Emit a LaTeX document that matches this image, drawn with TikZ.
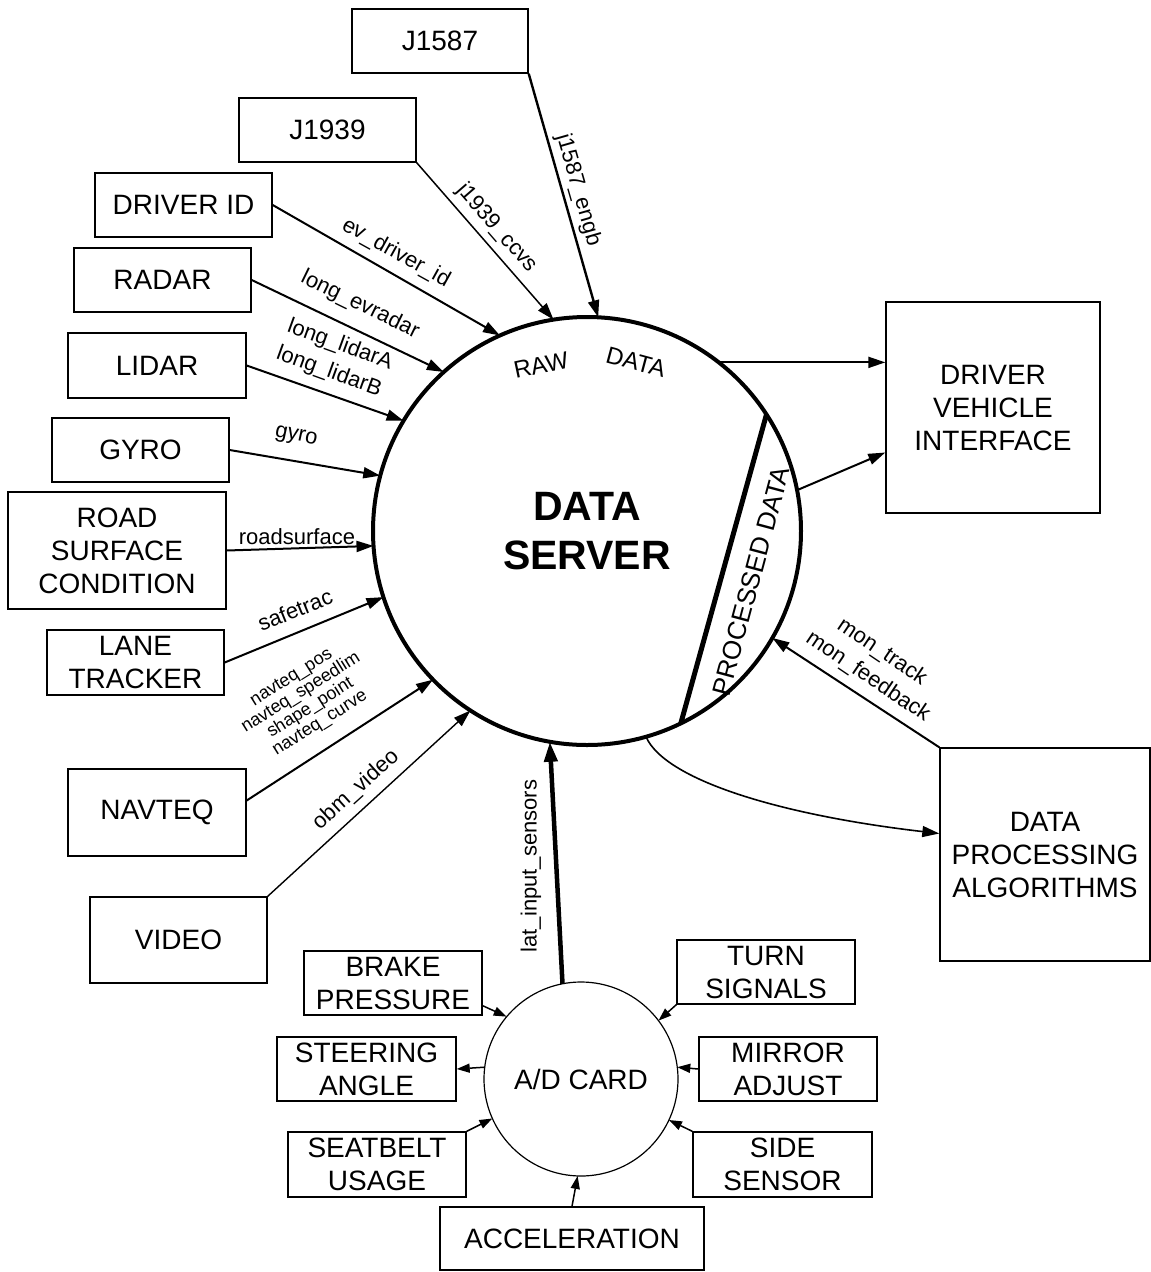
\documentclass[tikz,border=0pt]{standalone}
\usepackage{fontspec}
\setmainfont{Liberation Sans}
\usetikzlibrary{arrows.meta,calc}
\begin{document}
\begin{tikzpicture}[x=1pt,y=-1pt,
  box/.style={draw, line width=1.4pt, inner sep=0pt, align=center, font=\fontsize{28}{33}\selectfont},
  lbl/.style={inner sep=0pt, align=center, font=\fontsize{22}{25}\selectfont},
  slbl/.style={inner sep=0pt, align=center, font=\fontsize{18}{18}\selectfont},
  arr/.style={line width=2pt, -{Triangle[length=17pt,width=11pt]}},
  sarr/.style={line width=1.5pt, -{Triangle[length=13pt,width=9pt]}},
]
\useasboundingbox (0,0) rectangle (1151,1272);
% data server
\node[circle, draw, line width=4pt, inner sep=0pt, outer sep=0pt, minimum size=428, align=center,
      font=\fontsize{41}{49}\selectfont\bfseries] (ds) at (587,531) {DATA\\SERVER};
\draw[line width=5pt] (ds.33) -- (ds.-64);
\node[inner sep=0pt, font=\fontsize{24}{25}\selectfont, rotate=12] (raw) at (541,365) {RAW};
\node[inner sep=0pt, font=\fontsize{24}{25}\selectfont, rotate=-15] (rdata) at (636,362) {DATA};
\node[inner sep=0pt, font=\fontsize{26}{28}\selectfont, rotate=75] (pdata) at (751,581) {PROCESSED DATA};
% source boxes
\node[box, minimum width=176, minimum height=64] (j1587) at (440,41) {J1587};
\node[box, minimum width=177, minimum height=64] (j1939) at (327.5,130) {J1939};
\node[box, minimum width=177, minimum height=64] (drv) at (183.5,205) {DRIVER ID};
\node[box, minimum width=177, minimum height=64] (radar) at (162.5,280) {RADAR};
\node[box, minimum width=178, minimum height=65] (lidar) at (157,365.5) {LIDAR};
\node[box, minimum width=177, minimum height=64] (gyro) at (140.5,450) {GYRO};
\node[box, minimum width=218, minimum height=117] (road) at (117,550.5) {ROAD\\SURFACE\\CONDITION};
\node[box, minimum width=177, minimum height=65] (lane) at (135.5,662.5) {LANE\\TRACKER};
\node[box, minimum width=178, minimum height=87] (navteq) at (157,812.5) {NAVTEQ};
\node[box, minimum width=177, minimum height=86] (video) at (178.5,940) {VIDEO};
\node[box, minimum width=214, minimum height=211] (dvi) at (993,407.5) {DRIVER\\VEHICLE\\INTERFACE};
\node[box, minimum width=210, minimum height=213] (dpa) at (1045,854.5) {DATA\\PROCESSING\\ALGORITHMS};
% A/D card
\node[circle, draw, line width=1.2pt, inner sep=0pt, outer sep=0pt, minimum size=194,
      font=\fontsize{28}{33}\selectfont] (ad) at (581,1079) {A/D CARD};
\node[box, minimum width=178, minimum height=64] (brake) at (393,983) {BRAKE\\PRESSURE};
\node[box, minimum width=179, minimum height=64] (steer) at (366.5,1069) {STEERING\\ANGLE};
\node[box, minimum width=178, minimum height=65] (seat) at (377,1164.5) {SEATBELT\\USAGE};
\node[box, minimum width=178, minimum height=64] (turn) at (766,972) {TURN\\SIGNALS};
\node[box, minimum width=178, minimum height=64] (mirror) at (788,1069) {MIRROR\\ADJUST};
\node[box, minimum width=179, minimum height=65] (side) at (782.5,1164.5) {SIDE\\SENSOR};
\node[box, minimum width=264, minimum height=63] (accel) at (572,1238.5) {ACCELERATION};
% connectors to data server
\draw[arr, line width=2.4pt] (j1587.south east) -- (ds.87);
\draw[arr, line width=1.5pt] (j1939.south east) -- (ds.99);
\draw[arr] (drv.east) -- (ds.114);
\draw[arr] (radar.east) -- (ds.132);
\draw[arr] (lidar.east) -- (ds.149);
\draw[arr] (gyro.east) -- (ds.165);
\draw[arr] (road.east) -- (ds.184);
\draw[arr] (lane.east) -- (ds.198);
\draw[arr] ([yshift=12pt]navteq.east) -- (ds.224);
\draw[arr, line width=1.4pt] (video.north east) -- (ds.237);
\draw[line width=4.5pt, -{Triangle[length=20pt,width=13pt]}] (ad.101) -- (ds.260);
\draw[arr] (ds.52) -- (ds.52 -| dvi.west);
\draw[arr] (ds.11) -- ([yshift=-45pt]dvi.west);
\draw[arr] (dpa.north west) -- (ds.-30);
\draw[arr, line width=1.6pt] (ds.-74) .. controls (665,780) and (780,815) .. ([yshift=21pt]dpa.west);
% connectors at A/D card
\draw[sarr] ([yshift=10pt]brake.south east) -- (ad.140);
\draw[sarr] (ad.173) -- (steer.east);
\draw[sarr] (seat.north east) -- (ad.204);
\draw[sarr] (turn.south west) -- (ad.37);
\draw[sarr] (mirror.west) -- (ad.7);
\draw[sarr] (side.north west) -- (ad.-25);
\draw[sarr] (accel.north) -- (ad.-92);
% connector labels
\node[lbl, rotate=-74] (lj1587) at (578,190) {j1587\_engb};
\node[lbl, rotate=-49] (lj1939) at (497,228) {j1939\_ccvs};
\node[lbl, rotate=-29] (ldrv) at (396,253) {ev\_driver\_id};
\node[lbl, rotate=-26] (lradar) at (360,305) {long\_evradar};
\node[lbl, rotate=-20] (llidara) at (340,345) {long\_lidarA};
\node[lbl, rotate=-20] (llidarb) at (329,372) {long\_lidarB};
\node[lbl, rotate=-12] (lgyro) at (296,437) {gyro};
\node[lbl] (lroad) at (297,537) {roadsurface};
\node[lbl, rotate=22] (llane) at (295,610) {safetrac};
\node[slbl, rotate=32] (lnav) at (306,701) {navteq\_pos\\navteq\_speedlim\\shape\_point\\navteq\_curve};
\node[lbl, rotate=42] (lvideo) at (356,790) {obm\_video};
\node[lbl, rotate=90] (llat) at (531,866) {lat\_input\_sensors};
\node[lbl, rotate=-34] (lmont) at (882,652) {mon\_track};
\node[lbl, rotate=-34] (lmonf) at (868,677) {mon\_feedback};
\end{tikzpicture}
\end{document}
